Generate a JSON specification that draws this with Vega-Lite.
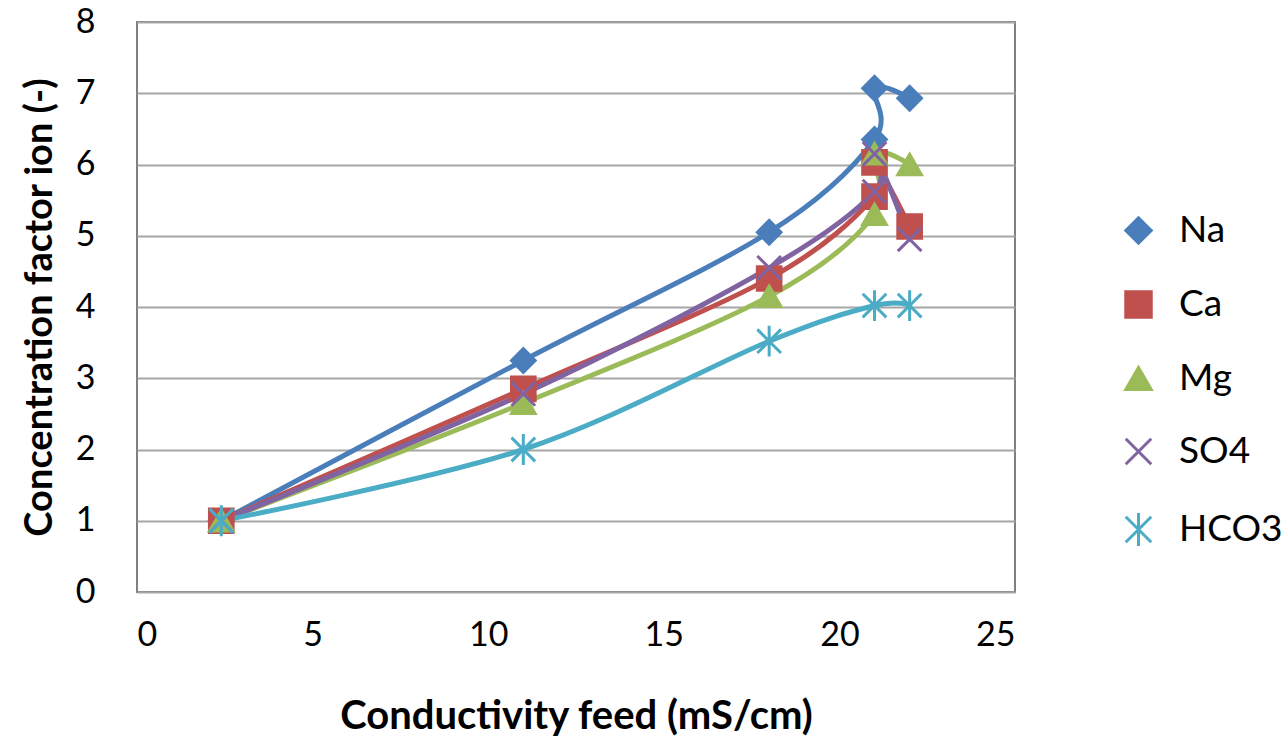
{
  "$schema": "https://vega.github.io/schema/vega-lite/v6.json",
  "autosize": "none",
  "width": 878,
  "height": 570,
  "padding": {"left": 137, "top": 22, "right": 273, "bottom": 149},
  "background": "white",
  "config": {
    "font": "Lato",
    "view": {"stroke": "#808080", "strokeWidth": 2},
    "axis": {"labelFont": "Lato", "titleFont": "Lato", "labelColor": "#000", "titleColor": "#000"}
  },
  "data": {
    "values": [
      {"ion": "Na", "seq": 1, "cond": 2.4, "cf": 1.0},
      {"ion": "Na", "seq": 2, "cond": 11, "cf": 3.25},
      {"ion": "Na", "seq": 3, "cond": 18, "cf": 5.05},
      {"ion": "Na", "seq": 4, "cond": 21, "cf": 6.35},
      {"ion": "Na", "seq": 5, "cond": 21, "cf": 7.07},
      {"ion": "Na", "seq": 6, "cond": 22, "cf": 6.93},
      {"ion": "Ca", "seq": 1, "cond": 2.4, "cf": 1.0},
      {"ion": "Ca", "seq": 2, "cond": 11, "cf": 2.85},
      {"ion": "Ca", "seq": 3, "cond": 18, "cf": 4.4},
      {"ion": "Ca", "seq": 4, "cond": 21, "cf": 5.55},
      {"ion": "Ca", "seq": 5, "cond": 21, "cf": 6.03},
      {"ion": "Ca", "seq": 6, "cond": 22, "cf": 5.13},
      {"ion": "Mg", "seq": 1, "cond": 2.4, "cf": 1.0},
      {"ion": "Mg", "seq": 2, "cond": 11, "cf": 2.65},
      {"ion": "Mg", "seq": 3, "cond": 18, "cf": 4.15},
      {"ion": "Mg", "seq": 4, "cond": 21, "cf": 5.3},
      {"ion": "Mg", "seq": 5, "cond": 21, "cf": 6.15},
      {"ion": "Mg", "seq": 6, "cond": 22, "cf": 6.0},
      {"ion": "SO4", "seq": 1, "cond": 2.4, "cf": 1.0},
      {"ion": "SO4", "seq": 2, "cond": 11, "cf": 2.78},
      {"ion": "SO4", "seq": 3, "cond": 18, "cf": 4.55},
      {"ion": "SO4", "seq": 4, "cond": 21, "cf": 5.62},
      {"ion": "SO4", "seq": 5, "cond": 21, "cf": 6.15},
      {"ion": "SO4", "seq": 6, "cond": 22, "cf": 4.95},
      {"ion": "HCO3", "seq": 1, "cond": 2.4, "cf": 1.0},
      {"ion": "HCO3", "seq": 2, "cond": 11, "cf": 2.0},
      {"ion": "HCO3", "seq": 3, "cond": 18, "cf": 3.52},
      {"ion": "HCO3", "seq": 4, "cond": 21, "cf": 4.02},
      {"ion": "HCO3", "seq": 5, "cond": 22, "cf": 4.02}
    ]
  },
  "encoding": {
    "x": {
      "field": "cond", "type": "quantitative",
      "scale": {"domain": [0, 25], "nice": false, "zero": false},
      "axis": {"values": [0, 5, 10, 15, 20, 25], "grid": false, "domain": false, "ticks": false,
               "labelFontSize": 34, "labelPadding": 26, "title": "Conductivity feed (mS/cm)",
               "titleFontSize": 40, "titleFontWeight": "bold", "titlePadding": 44}
    },
    "y": {
      "field": "cf", "type": "quantitative",
      "scale": {"domain": [0, 8], "nice": false},
      "axis": {"values": [0, 1, 2, 3, 4, 5, 6, 7, 8], "grid": true, "gridColor": "#a6a6a6", "gridWidth": 2,
               "domain": false, "ticks": false, "labelFontSize": 34, "labelPadding": 42,
               "title": "Concentration factor ion (-)", "titleFontSize": 38, "titleFontWeight": "bold",
               "titlePadding": 16}
    }
  },
  "layer": [
    {
      "mark": {"type": "line", "interpolate": "cardinal", "strokeWidth": 5, "strokeCap": "round"},
      "encoding": {
        "order": {"field": "seq", "type": "quantitative"},
        "detail": {"field": "ion"},
        "color": {
          "field": "ion", "type": "nominal",
          "scale": {"domain": ["Na", "Ca", "Mg", "SO4", "HCO3"],
                    "range": ["#4a7ebb", "#c0504d", "#9bbb59", "#8064a2", "#4bacc6"]},
          "legend": {
            "title": null, "orient": "none", "legendX": 983, "legendY": 190,
            "labelFontSize": 37, "labelFont": "Lato", "labelColor": "#000",
            "symbolSize": 650, "rowPadding": 35, "labelOffset": 22, "symbolStrokeWidth": 3,
            "encode": {"symbols": {"update": {"stroke": {"scale": "color", "field": "value"}}}}
          }
        },
        "shape": {
          "field": "ion", "type": "nominal",
          "scale": {"domain": ["Na", "Ca", "Mg", "SO4", "HCO3"],
                    "range": ["diamond", "square", "triangle-up", "M-1,-1L1,1M-1,1L1,-1", "M-1,-1L1,1M-1,1L1,-1M0,-1.3L0,1.3"]},
          "legend": null
        }
      }
    },
    {
      "mark": {"type": "point", "filled": true, "size": 560, "strokeWidth": 3, "opacity": 1},
      "encoding": {
        "color": {"field": "ion", "type": "nominal"},
        "stroke": {"field": "ion", "type": "nominal",
                   "scale": {"domain": ["Na", "Ca", "Mg", "SO4", "HCO3"],
                             "range": ["#4a7ebb", "#c0504d", "#9bbb59", "#8064a2", "#4bacc6"]},
                   "legend": null},
        "shape": {"field": "ion", "type": "nominal"}
      }
    }
  ]
}
